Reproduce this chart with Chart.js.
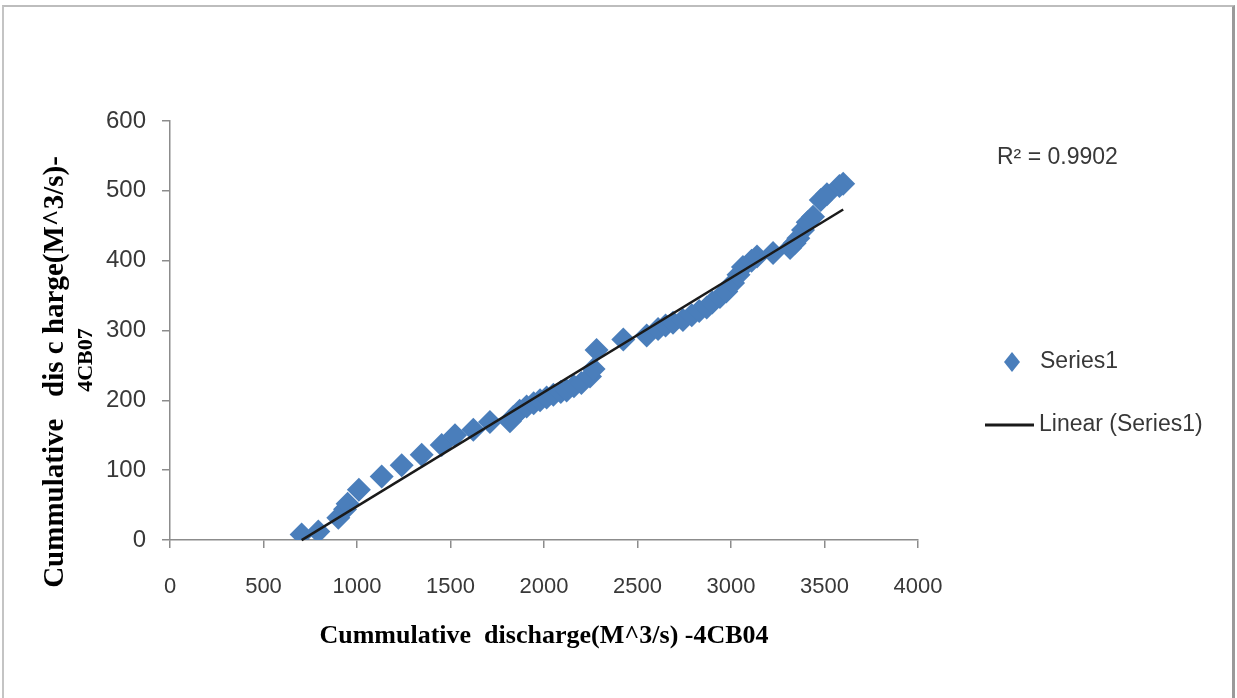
<!DOCTYPE html>
<html>
<head>
<meta charset="utf-8">
<title>Double mass curve 4CB04 / 4CB07</title>
<script src="https://cdn.jsdelivr.net/npm/chart.js"></script>
<style>
  html, body { margin: 0; padding: 0; background: #fff; }
  #wrap { position: relative; width: 1237px; height: 698px; overflow: hidden; }
  #frame {
    position: absolute; left: 2px; top: 5px; width: 1228px; height: 720px;
    border-left: 2px solid #c4c4c4; border-top: 2px solid #bdbdbd; border-right: 3px solid #9a9a9a;
  }
  canvas { position: absolute; left: 0; top: 0; }
</style>
</head>
<body>
<div id="wrap">
  <div id="frame"></div>
  <canvas id="massCurve" width="1237" height="698"></canvas>
</div>
<script>
// cumulative discharge at station 4CB04 (x) and 4CB07 (y)
const dischargeB04 = [704, 793, 900, 936, 950, 1010, 1132, 1239, 1346, 1453, 1524, 1622, 1711, 1818, 1836,
  1870, 1907, 1945, 1979, 2014, 2050, 2090, 2121, 2160, 2200, 2246, 2265, 2281, 2424, 2549,
  2610, 2650, 2690, 2743, 2790, 2830, 2870, 2900, 2941, 2975, 3011, 3040, 3064, 3110, 3139,
  3225, 3316, 3340, 3360, 3385, 3410, 3439, 3480, 3513, 3580, 3600];
const dischargeB07 = [8, 12, 32, 44, 52, 72, 91, 107, 122, 136, 150, 158, 169, 170, 176,
  185, 191, 196, 200, 204, 208, 212, 214, 220, 225, 234, 245, 272, 287, 293,
  302, 307, 311, 315, 322, 328, 333, 340, 348, 356, 368, 380, 391, 400, 406,
  411, 418, 425, 432, 444, 455, 463, 487, 495, 507, 510];

const xTicks = [0, 500, 1000, 1500, 2000, 2500, 3000, 3500, 4000];
const yTicks = [0, 100, 200, 300, 400, 500, 600];
const xTitle = 'Cummulative  discharge(M^3/s) -4CB04';
const yTitle = ['Cummulative   dis c harge(M^3/s)-', '4CB07'];
const rSquaredText = 'R² = 0.9902';

const points = dischargeB04.map((x, i) => ({ x: x, y: dischargeB07[i] }));

// least squares line through the points
const n = points.length;
const mx = dischargeB04.reduce((a, b) => a + b, 0) / n;
const my = dischargeB07.reduce((a, b) => a + b, 0) / n;
let sxy = 0, sxx = 0;
points.forEach(p => { sxy += (p.x - mx) * (p.y - my); sxx += (p.x - mx) * (p.x - mx); });
const slope = sxy / sxx;
const intercept = my - slope * mx;
const xMin = Math.min(...dischargeB04);
const xMax = Math.max(...dischargeB04);
const trend = [
  { x: xMin, y: slope * xMin + intercept },
  { x: xMax, y: slope * xMax + intercept },
];

const blue = '#4a7ebb';
const axisGrey = '#8c8c8c';
const labelColor = '#383838';
const narrow = '"Liberation Sans Narrow", "Liberation Sans", sans-serif';
const serif = '"Liberation Serif", "Times New Roman", serif';

// rotated y title, legend and R² drawn beside the plot
const sideText = {
  id: 'sideText',
  afterDraw(chart) {
    const ctx = chart.ctx;
    ctx.save();

    ctx.fillStyle = '#000';
    ctx.textAlign = 'center';
    ctx.textBaseline = 'middle';
    ctx.save();
    ctx.translate(56, 372);
    ctx.rotate(-Math.PI / 2);
    ctx.font = 'bold 29px ' + serif;
    ctx.fillText(yTitle[0], 0, 0);
    ctx.restore();
    ctx.save();
    ctx.translate(86, 360);
    ctx.rotate(-Math.PI / 2);
    ctx.font = 'bold 22px ' + serif;
    ctx.fillText(yTitle[1], 0, 0);
    ctx.restore();

    ctx.fillStyle = labelColor;
    ctx.textAlign = 'left';
    ctx.font = '23px ' + narrow;
    ctx.fillText(rSquaredText, 997, 158);

    // Series1 marker
    ctx.fillStyle = blue;
    ctx.beginPath();
    ctx.moveTo(1012, 352);
    ctx.lineTo(1020, 362);
    ctx.lineTo(1012, 372);
    ctx.lineTo(1004, 362);
    ctx.closePath();
    ctx.fill();
    ctx.fillStyle = labelColor;
    ctx.fillText('Series1', 1040, 362);

    // trend line sample
    ctx.strokeStyle = '#1a1a1a';
    ctx.lineWidth = 3;
    ctx.beginPath();
    ctx.moveTo(985, 425);
    ctx.lineTo(1034, 425);
    ctx.stroke();
    ctx.fillText('Linear (Series1)', 1039, 425);
    ctx.restore();
  }
};

new Chart(document.getElementById('massCurve'), {
  type: 'scatter',
  data: {
    datasets: [
      {
        label: 'Linear (Series1)',
        type: 'line',
        data: trend,
        borderColor: '#1a1a1a',
        borderWidth: 2.5,
        pointRadius: 0,
        fill: false,
        clip: false,
        order: 0,
      },
      {
        label: 'Series1',
        data: points,
        pointStyle: 'rectRot',
        pointRadius: 12,
        pointHoverRadius: 12,
        backgroundColor: blue,
        borderColor: blue,
        borderWidth: 0,
        order: 1,
      },
    ],
  },
  options: {
    responsive: false,
    animation: false,
    layout: { padding: { top: 121, right: 319, left: 0, bottom: 0 } },
    plugins: {
      legend: { display: false },
      tooltip: { enabled: false },
    },
    scales: {
      x: {
        type: 'linear',
        min: 0,
        max: 4000,
        afterFit: s => { s.height = 158; },
        afterBuildTicks: s => { s.ticks = xTicks.map(v => ({ value: v })); },
        grid: { drawOnChartArea: false, drawTicks: true, tickLength: 8, color: axisGrey, lineWidth: 1.5 },
        border: { color: axisGrey, width: 1.5 },
        ticks: {
          color: labelColor,
          padding: 26,
          callback: v => String(v),
          font: { family: narrow, size: 22 },
        },
        title: {
          display: true,
          text: xTitle,
          color: '#000',
          font: { family: serif, size: 26, weight: 'bold' },
          padding: { top: 0, bottom: 46 },
        },
      },
      y: {
        min: 0,
        max: 600,
        afterFit: s => { s.width = 170; },
        afterBuildTicks: s => { s.ticks = yTicks.map(v => ({ value: v })); },
        grid: { drawOnChartArea: false, drawTicks: true, tickLength: 8, color: axisGrey, lineWidth: 1.5 },
        border: { color: axisGrey, width: 1.5 },
        ticks: {
          color: labelColor,
          padding: 16,
          callback: v => String(v),
          font: { family: '"Liberation Sans", sans-serif', size: 24 },
        },
      },
    },
  },
  plugins: [sideText],
});
</script>
</body>
</html>
